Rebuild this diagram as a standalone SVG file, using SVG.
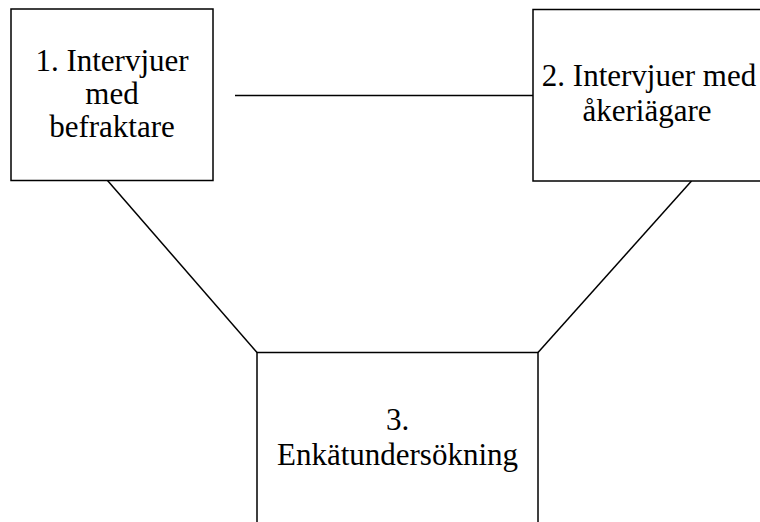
<svg xmlns="http://www.w3.org/2000/svg" width="760" height="522" viewBox="0 0 760 522">
<style>
.box{fill:#fff;stroke:#000;stroke-width:1.5}
.lbl{font-family:'Liberation Serif','DejaVu Serif','Noto Serif',serif;font-size:31px;fill:#000;text-anchor:middle}
.con{stroke:#000;stroke-width:1.5;fill:none}
</style>
<rect width="760" height="522" fill="#fff"/>
<g id="connectors">
<line class="con" x1="235" y1="95.5" x2="533" y2="95.5"/>
<line class="con" x1="107.5" y1="180.5" x2="257" y2="352.5"/>
<line class="con" x1="691.5" y1="181" x2="538" y2="352.5"/>
</g>
<g id="node1">
<rect class="box" x="11" y="9" width="202" height="171.5"/>
<text class="lbl" x="112" y="71">1. Intervjuer</text>
<text class="lbl" x="112" y="104">med</text>
<text class="lbl" x="112" y="137">befraktare</text>
</g>
<g id="node2">
<rect class="box" x="533" y="9.5" width="240" height="171.5"/>
<text class="lbl" x="649" y="86">2. Intervjuer med</text>
<text class="lbl" x="647" y="121">åkeriägare</text>
</g>
<g id="node3">
<rect class="box" x="257" y="352.5" width="281" height="180"/>
<text class="lbl" x="397.5" y="430">3.</text>
<text class="lbl" x="397.5" y="465">Enkätundersökning</text>
</g>
</svg>
